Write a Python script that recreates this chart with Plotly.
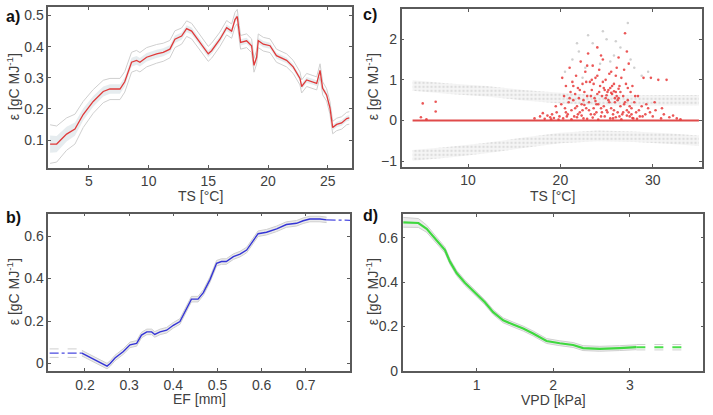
import plotly.graph_objects as go

# ---------------- data ----------------
# panel a: epsilon vs TS
a_x = [1.75, 2.3, 3.13, 3.83, 4.52, 5.36, 6.2, 6.76, 7.6, 8.0, 8.57, 8.99, 9.27, 9.83, 10.67,
       11.22, 11.78, 12.2, 12.76, 13.18, 13.6, 14.3, 14.99, 15.27, 15.97, 16.53, 16.95, 17.23,
       17.42, 17.59, 17.7, 18.2, 18.62, 18.82, 19.04, 19.18, 19.6, 20.16, 20.7, 21.55, 22.1,
       22.67, 22.81, 23.23, 23.79, 24.07, 24.35, 24.57, 24.9, 25.18, 25.41, 25.74, 26.16, 26.58, 26.8]
a_y = [0.087, 0.087, 0.119, 0.135, 0.182, 0.224, 0.256, 0.264, 0.264, 0.287, 0.35, 0.356, 0.35,
       0.366, 0.377, 0.382, 0.392, 0.424, 0.434, 0.458, 0.45, 0.414, 0.377, 0.387, 0.424, 0.461,
       0.45, 0.487, 0.497, 0.445, 0.414, 0.419, 0.403, 0.34, 0.366, 0.419, 0.408, 0.403, 0.371,
       0.356, 0.335, 0.298, 0.272, 0.293, 0.287, 0.282, 0.324, 0.266, 0.245, 0.203, 0.14, 0.15,
       0.155, 0.169, 0.171]
a_hw = [0.062, 0.058, 0.052, 0.048, 0.042, 0.038, 0.036, 0.034, 0.034, 0.033, 0.032, 0.032,
        0.031, 0.031, 0.030, 0.029, 0.028, 0.027, 0.026, 0.025, 0.025, 0.024, 0.024, 0.024,
        0.023, 0.023, 0.023, 0.023, 0.023, 0.023, 0.022, 0.022, 0.022, 0.022, 0.022, 0.022,
        0.022, 0.022, 0.021, 0.021, 0.021, 0.021, 0.021, 0.021, 0.021, 0.021, 0.021, 0.021,
        0.020, 0.020, 0.020, 0.020, 0.020, 0.020, 0.020]

# panel b: epsilon vs EF
b_x = [0.193, 0.25, 0.257, 0.268, 0.287, 0.302, 0.317, 0.328, 0.34, 0.351, 0.358, 0.37, 0.385,
       0.4, 0.415, 0.426, 0.441, 0.456, 0.468, 0.483, 0.498, 0.509, 0.52, 0.536, 0.551, 0.566,
       0.581, 0.592, 0.611, 0.634, 0.656, 0.679, 0.694, 0.709, 0.732, 0.747]
b_y = [0.049, -0.012, 0.0, 0.026, 0.057, 0.088, 0.095, 0.134, 0.149, 0.149, 0.137, 0.149, 0.157,
       0.18, 0.198, 0.242, 0.303, 0.303, 0.334, 0.395, 0.472, 0.48, 0.48, 0.503, 0.515, 0.534,
       0.58, 0.611, 0.618, 0.634, 0.654, 0.66, 0.672, 0.68, 0.68, 0.676]
b_lo_x = [0.12, 0.193]
b_lo_y = [0.049, 0.049]
b_hi_x = [0.747, 0.80]
b_hi_y = [0.676, 0.674]
b_hw = 0.013

# panel c: residuals vs TS
c_band_x = [4, 8, 12, 16, 20, 24, 28, 32, 35]
c_up_center = [0.86, 0.78, 0.72, 0.62, 0.55, 0.5, 0.49, 0.5, 0.5]
c_lo_center = [-0.86, -0.78, -0.68, -0.55, -0.43, -0.38, -0.4, -0.45, -0.5]
c_band_hw = 0.13
c_line_x = [4, 35]
c_line_y = [0, 0]
c_red_x = [5.1, 6.5, 4.9, 6.5, 5.5,
           17.2, 17.8, 18.3, 18.6, 18.9, 19.1, 19.3, 19.6, 19.9, 18.1, 19.0, 19.5, 19.8,
           20.2, 20.4, 20.5, 20.6, 20.8, 20.9, 21.0, 21.1, 21.2, 21.3, 21.4, 21.5, 21.6, 21.7,
           21.8, 21.9, 22.0, 22.1, 22.2, 22.3, 22.4, 22.5, 22.6, 22.7, 22.8, 22.9,
           23.0, 23.1, 23.2, 23.3, 23.4, 23.5, 23.6, 23.7, 23.8, 23.9, 24.0, 24.0, 24.1, 24.2,
           24.3, 24.4, 24.5, 24.6, 24.7, 24.8, 24.9, 25.0, 25.1, 25.2, 25.3, 25.4, 25.5, 25.6,
           25.7, 25.8, 25.9, 26.0, 26.1, 26.2, 26.3, 26.4, 26.5, 26.6, 26.7, 26.8, 26.9, 27.0,
           27.1, 27.2, 27.3, 27.4, 27.5, 27.6, 27.7, 27.8, 27.9, 28.0, 28.2, 28.4, 28.6, 28.8,
           29.0, 29.2, 29.5, 29.8, 30.0, 30.3, 30.6, 30.9, 31.2, 31.5, 31.8, 32.2, 32.6, 33.0,
           20.3, 20.7, 21.2, 21.8, 22.3, 22.9, 23.5, 24.1, 24.8, 25.4, 26.0, 26.6, 27.2, 27.8, 28.3,
           25.2, 25.5, 25.8, 26.1, 25.0, 24.7, 25.9, 26.3, 23.8, 22.6,
           20.1, 20.6, 21.0, 21.4, 21.9, 22.1, 22.5, 22.8, 23.1, 23.3, 23.6, 23.9, 24.2, 24.4,
           24.6, 24.9, 25.1, 25.3, 25.6, 25.8, 26.0, 26.2, 26.5, 26.8, 27.0, 27.3, 27.5, 27.7,
           28.1, 28.5, 28.9, 29.3, 29.7, 30.2, 31.0, 21.6, 22.4, 23.7, 24.5, 25.7, 26.4, 27.4,
           24.0, 23.4, 25.5, 22.9, 26.3, 27.2, 24.4, 26.9]
c_red_y = [0.42, 0.46, 0.08, 0.22, 0.03,
           0.05, 0.1, 0.04, 0.12, 0.08, 0.15, 0.06, 0.2, 0.1, 0.18, 0.03, 0.35, 0.02,
           1.05, 0.6, 0.3, 0.85, 0.15, 0.45, 1.3, 0.7, 0.25, 0.95, 0.5, 0.1, 0.65, 1.1,
           0.35, 0.8, 0.55, 0.2, 1.45, 0.4, 0.9, 0.05, 0.7, 1.2, 0.3, 0.6,
           1.65, 0.45, 0.95, 0.15, 0.75, 1.35, 0.3, 0.55, 1.05, 0.2, 1.8, 0.65, 0.4, 1.25,
           0.85, 0.1, 0.6, 1.5, 0.35, 0.75, 1.0, 0.25, 0.7, 0.5, 1.15, 0.8, 0.3, 0.65,
           0.05, 0.9, 0.45, 0.7, 1.3, 0.2, 0.55, 0.85, 0.35, 1.05, 0.15, 0.6, 0.4, 2.15,
           0.9, 0.25, 0.5, 1.4, 0.1, 0.7, 0.3, 0.85, 0.05, 0.45, 0.2, 0.6, 0.1, 0.35,
           1.05, 0.15, 0.3, 1.05, 0.1, 0.25, 1.0, 0.05, 0.15, 1.0, 0.08, 0.12, 0.05, 0.03,
           0.05, 0.1, 0.03, 0.08, 0.12, 0.04, 0.07, 0.02, 0.1, 0.05, 0.08, 0.03, 0.12, 0.06, 0.04,
           0.75, 0.68, 0.72, 0.6, 0.62, 0.8, 0.55, 0.78, 0.48, 0.38,
           0.4, 0.2, 0.55, 0.85, 0.15, 0.75, 0.5, 0.95, 0.25, 0.6, 0.9, 0.4, 0.7, 0.3,
           0.95, 0.55, 0.2, 0.45, 0.85, 0.25, 1.1, 0.5, 0.7, 0.2, 0.45, 0.8, 0.35, 0.15,
           0.6, 0.25, 0.1, 0.4, 0.2, 0.45, 0.3, 0.3, 0.25, 0.15, 0.2, 0.15, 0.1, 0.2,
           1.1, 1.0, 1.2, 1.35, 1.55, 1.7, 1.6, 1.25]
c_gray_x = [20.5, 21.3, 22.0, 22.7, 23.5, 24.3, 25.0, 25.8, 26.5, 27.3, 28.0, 28.8, 29.5,
            21.8, 23.0, 24.6, 26.0, 27.6, 22.4, 25.4]
c_gray_y = [1.2, 1.5, 1.7, 1.3, 1.9, 1.4, 2.0, 1.6, 1.8, 2.4, 1.3, 1.1, 1.2,
            1.9, 2.1, 2.2, 1.95, 1.5, 1.05, 1.45]

# panel d: epsilon vs VPD
d_x = [0.043, 0.24, 0.348, 0.478, 0.587, 0.652, 0.739, 0.847, 0.978, 1.108, 1.216, 1.347,
       1.477, 1.608, 1.738, 1.913, 2.086, 2.26, 2.39, 2.608, 2.868, 3.086]
d_y = [0.669, 0.666, 0.64, 0.588, 0.544, 0.492, 0.441, 0.397, 0.353, 0.309, 0.265, 0.228,
       0.209, 0.191, 0.169, 0.135, 0.125, 0.117, 0.103, 0.1, 0.103, 0.107]
d_hw = [0.022, 0.02, 0.016, 0.014, 0.013, 0.012, 0.012, 0.012, 0.012, 0.011, 0.011, 0.011,
        0.011, 0.011, 0.011, 0.011, 0.011, 0.011, 0.011, 0.011, 0.011, 0.011]
d_ext_x = [3.086, 3.74]
d_ext_y = [0.107, 0.107]

ylabel = "ε [gC MJ<sup>-1</sup>]"

# ---------------- figure ----------------
fig = go.Figure()
GRAY = "#cfcfcf"


def band(xs, ys, hws, xa, ya, color, width=1.0, fillcolor=None):
    up = [y + h for y, h in zip(ys, hws)]
    lo = [y - h for y, h in zip(ys, hws)]
    if fillcolor:
        fig.add_trace(go.Scatter(x=xs + xs[::-1], y=up + lo[::-1], fill="toself", mode="none",
                                 fillcolor=fillcolor, xaxis=xa, yaxis=ya, hoverinfo="skip"))
    if width > 0:
        fig.add_trace(go.Scatter(x=xs, y=up, mode="lines", line=dict(color=color, width=width),
                                 xaxis=xa, yaxis=ya))
        fig.add_trace(go.Scatter(x=xs, y=lo, mode="lines", line=dict(color=color, width=width),
                                 xaxis=xa, yaxis=ya))


# panel a
a_inner = [h * 0.45 for h in a_hw]
band(a_x, a_y, a_inner, "x", "y", GRAY, 0, fillcolor="rgba(200,212,220,0.45)")
band(a_x, a_y, a_hw, "x", "y", GRAY, 1.0)
fig.add_trace(go.Scatter(x=a_x, y=a_y, mode="lines", line=dict(color="#e03a3a", width=1.3),
                         xaxis="x", yaxis="y"))

# panel c
for cen in (c_up_center, c_lo_center):
    up = [v + c_band_hw for v in cen]
    lo = [v - c_band_hw for v in cen]
    fig.add_trace(go.Scatter(x=c_band_x + c_band_x[::-1], y=up + lo[::-1], fill="toself",
                             mode="none", fillcolor="rgba(225,225,225,0.5)",
                             fillpattern=dict(shape=".", fgcolor="#c4c4c4", size=4, solidity=0.3,
                                              bgcolor="rgba(236,236,236,0.5)"),
                             xaxis="x2", yaxis="y2", hoverinfo="skip"))
fig.add_trace(go.Scatter(x=c_gray_x, y=c_gray_y, mode="markers",
                         marker=dict(color="#d0d0d0", size=2.5), xaxis="x2", yaxis="y2"))
fig.add_trace(go.Scatter(x=c_line_x, y=c_line_y, mode="lines", line=dict(color="#e04a4a", width=2),
                         xaxis="x2", yaxis="y2"))
fig.add_trace(go.Scatter(x=c_red_x, y=c_red_y, mode="markers",
                         marker=dict(color="#e83a3a", size=2.6, opacity=0.85),
                         xaxis="x2", yaxis="y2"))

# panel b
band(b_x, b_y, [b_hw] * len(b_x), "x3", "y3", GRAY, 1.0, fillcolor="rgba(215,215,215,0.5)")
fig.add_trace(go.Scatter(x=b_lo_x, y=[v + 0.02 for v in b_lo_y], mode="lines",
                         line=dict(color=GRAY, width=1, dash="dash"), xaxis="x3", yaxis="y3"))
fig.add_trace(go.Scatter(x=b_lo_x, y=[v - 0.02 for v in b_lo_y], mode="lines",
                         line=dict(color=GRAY, width=1, dash="dash"), xaxis="x3", yaxis="y3"))
fig.add_trace(go.Scatter(x=b_lo_x, y=b_lo_y, mode="lines",
                         line=dict(color="#4a4ae0", width=1.3, dash="dashdot"), xaxis="x3", yaxis="y3"))
fig.add_trace(go.Scatter(x=b_hi_x, y=b_hi_y, mode="lines",
                         line=dict(color="#4a4ae0", width=1.3, dash="dashdot"), xaxis="x3", yaxis="y3"))
fig.add_trace(go.Scatter(x=b_x, y=b_y, mode="lines", line=dict(color="#3535d5", width=1.4),
                         xaxis="x3", yaxis="y3"))

# panel d
band(d_x, d_y, d_hw, "x4", "y4", GRAY, 1.0, fillcolor="rgba(215,215,215,0.5)")
fig.add_trace(go.Scatter(x=d_ext_x, y=[v + 0.012 for v in d_ext_y], mode="lines",
                         line=dict(color=GRAY, width=1, dash="dash"), xaxis="x4", yaxis="y4"))
fig.add_trace(go.Scatter(x=d_ext_x, y=[v - 0.012 for v in d_ext_y], mode="lines",
                         line=dict(color=GRAY, width=1, dash="dash"), xaxis="x4", yaxis="y4"))
fig.add_trace(go.Scatter(x=d_ext_x, y=d_ext_y, mode="lines",
                         line=dict(color="#4ade4a", width=2, dash="dash"), xaxis="x4", yaxis="y4"))
fig.add_trace(go.Scatter(x=d_x, y=d_y, mode="lines", line=dict(color="#3fd83f", width=2.2),
                         xaxis="x4", yaxis="y4"))

W, H = 713, 415
FONT = dict(family="Liberation Sans, Arial, sans-serif", size=14, color="#404040")


def ax(domain, rng, ticks, anchor):
    return dict(domain=domain, range=rng, tickvals=ticks, anchor=anchor, showline=True,
                linecolor="#5a5a5a", linewidth=1.5, mirror="ticks", ticks="inside", ticklen=3,
                tickcolor="#5a5a5a", tickwidth=1, showgrid=False, zeroline=False,
                tickfont=FONT, fixedrange=True)


def px(v):
    return v / W


def py(v):
    return 1 - v / H


layout = dict(
    width=W, height=H, margin=dict(l=0, r=0, t=0, b=0), showlegend=False,
    paper_bgcolor="white", plot_bgcolor="white", font=FONT,
    xaxis=ax([px(48.3), px(351.7)], [1.6, 27.0], [5, 10, 15, 20, 25], "y"),
    yaxis=ax([py(171), py(7.3)], [0.011, 0.527], [0.1, 0.2, 0.3, 0.4, 0.5], "x"),
    xaxis2=ax([px(401.5), px(701.7)], [2.8, 35.3], [10, 20, 30], "y2"),
    yaxis2=ax([py(170), py(9)], [-1.14, 2.75], [-1, 0, 1, 2], "x2"),
    xaxis3=ax([px(48.3), px(350)], [0.117, 0.8], [0.2, 0.3, 0.4, 0.5, 0.6, 0.7], "y3"),
    yaxis3=ax([py(378.3), py(217.7)], [-0.035, 0.706], [0, 0.2, 0.4, 0.6], "x3"),
    xaxis4=ax([px(402.7), px(703.3)], [0.035, 3.96], [1, 2, 3], "y4"),
    yaxis4=ax([py(378.3), py(218.3)], [0, 0.706], [0, 0.2, 0.4, 0.6], "x4"),
)
fig.update_layout(**layout)

ann = []
TFONT = dict(family="Liberation Sans, Arial, sans-serif", size=14, color="#404040")
# x titles
for txt, xc, yc in [("TS [°C]", 200, 200), ("TS [°C]", 552, 200),
                    ("EF [mm]", 199, 407), ("VPD [kPa]", 553, 408)]:
    ann.append(dict(text=txt, x=px(xc), y=py(yc), xref="paper", yref="paper", showarrow=False,
                    font=TFONT, xanchor="center", yanchor="middle"))
# y titles
for xc, yc in [(13, 89), (372, 89), (13, 298), (372, 298)]:
    ann.append(dict(text=ylabel, x=px(xc), y=py(yc), xref="paper", yref="paper", showarrow=False,
                    font=TFONT, textangle=-90, xanchor="center", yanchor="middle"))
# panel letters
for txt, xc, yc in [("a)", 13, 17), ("c)", 370, 15), ("b)", 13, 222), ("d)", 371, 220)]:
    ann.append(dict(text="<b>" + txt + "</b>", x=px(xc), y=py(yc), xref="paper", yref="paper",
                    showarrow=False, font=dict(family="Liberation Sans, Arial", size=16, color="#111"),
                    xanchor="center", yanchor="middle"))
fig.update_layout(annotations=ann)

fig.write_html("out.html")
